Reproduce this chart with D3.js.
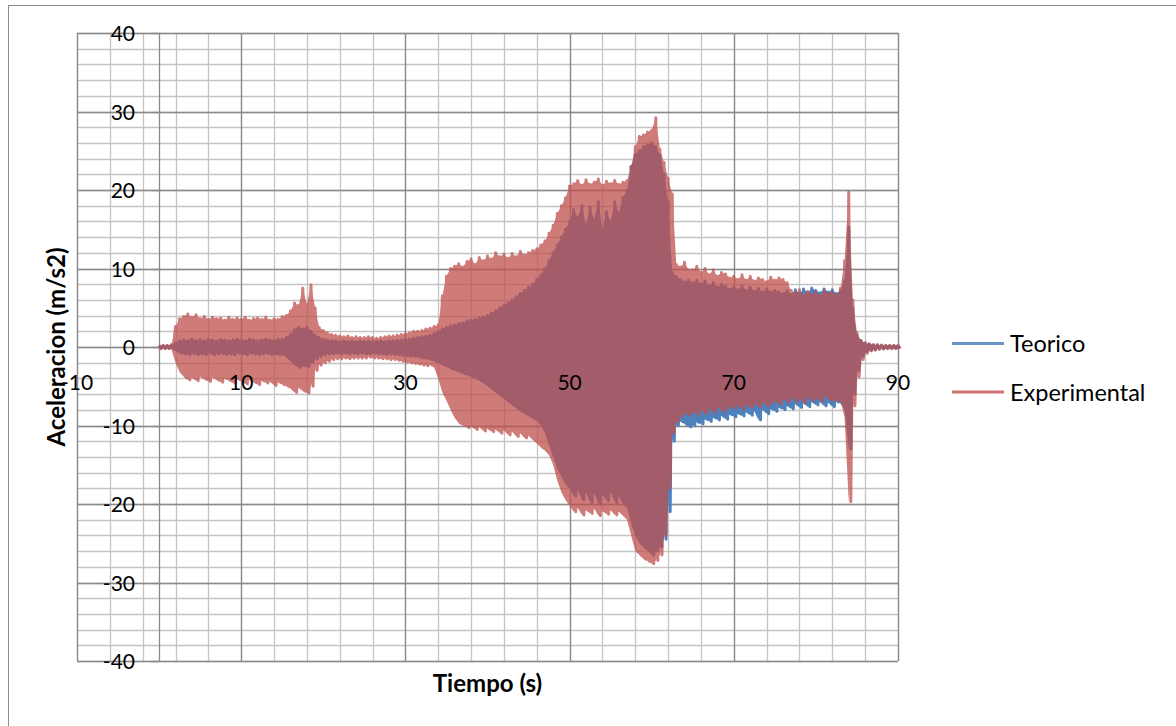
<!DOCTYPE html>
<html>
<head>
<meta charset="utf-8">
<script src="https://cdn.jsdelivr.net/npm/d3@7"></script>
<style>
  body { margin: 0; background: #ffffff; }
  text { font-family: Lato, "Open Sans", "Liberation Sans", sans-serif; fill: #000; }
</style>
</head>
<body>
<svg id="chart" width="1176" height="726"></svg>
<script>
// Seconds between stored samples; each sample holds the positive peak
// and the negative peak of the acceleration record around that instant.
const paso = 0.5;

// Teorico: positive / negative peaks (m/s2), one pair every 0.5 s from 0 to 90 s
const teoricoPicos = [
  0.15,0.15,0.15,0.2,0.5,0.8,0.9,0.8,1.0,0.8,
  0.9,0.8,1.0,0.9,0.8,1.0,0.9,0.8,0.9,1.0,
  0.9,0.8,1.0,0.9,0.8,0.9,1.0,0.9,0.8,1.0,
  1.0,1.2,1.6,2.2,2.5,2.3,2.5,2.0,1.5,1.2,
  1.0,0.9,0.8,0.8,0.7,0.8,0.7,0.8,0.7,0.8,
  0.7,0.8,0.7,0.7,0.8,0.7,0.8,0.8,0.9,0.9,
  1.0,1.0,1.1,1.2,1.3,1.4,1.5,1.7,2.0,2.3,
  2.5,2.7,2.8,3.0,3.1,3.3,3.4,3.5,3.7,3.8,
  4.0,4.3,4.6,5.0,5.3,5.6,6.0,6.4,6.8,7.2,
  7.6,8.0,8.6,9.2,10.0,11.0,12.0,13.0,14.0,15.0,
  16.0,17.5,16.5,18.0,15.5,17.8,16.2,18.5,15.0,17.2,
  16.0,18.5,17.0,19.0,20.0,23.0,24.5,25.0,25.5,25.8,
  26.0,25.5,24.5,22.0,18.5,9.5,9.0,8.6,8.3,8.5,
  8.2,8.5,8.0,8.4,7.8,8.2,7.6,8.0,7.7,7.4,
  7.6,7.3,7.8,7.2,7.6,7.1,7.5,7.0,7.4,7.0,
  7.2,7.0,6.8,7.2,6.7,7.3,6.8,7.4,6.9,7.5,
  7.2,6.9,7.4,7.0,7.3,6.8,7.2,8.5,15.3,5.0,
  1.5,0.8,0.5,0.35,0.25,0.2,0.2,0.15,0.15,0.15,
  0.15
];
const teoricoValles = [
  -0.15,-0.15,-0.15,-0.2,-0.5,-0.8,-0.9,-1.0,-0.8,-1.0,
  -0.9,-1.0,-0.8,-1.0,-0.9,-0.8,-1.0,-0.9,-1.0,-0.8,
  -0.9,-1.0,-0.8,-0.9,-1.0,-0.9,-0.8,-1.0,-0.9,-1.0,
  -1.0,-1.3,-1.8,-2.3,-2.6,-2.4,-2.5,-2.0,-1.5,-1.2,
  -1.0,-0.9,-0.9,-0.8,-0.9,-0.8,-0.9,-0.8,-0.9,-0.8,
  -0.9,-0.9,-0.8,-0.9,-0.9,-1.0,-0.9,-1.0,-1.0,-1.1,
  -1.1,-1.2,-1.2,-1.3,-1.4,-1.5,-1.6,-1.8,-2.0,-2.3,
  -2.5,-2.8,-3.0,-3.2,-3.4,-3.6,-3.8,-4.0,-4.3,-4.6,
  -5.0,-5.4,-5.8,-6.2,-6.6,-7.0,-7.4,-7.8,-8.2,-8.5,
  -8.8,-9.1,-9.4,-10.0,-11.0,-12.5,-14.0,-15.5,-16.5,-17.5,
  -18.0,-19.0,-18.2,-19.5,-18.5,-19.8,-18.6,-20.0,-18.8,-19.6,
  -18.5,-19.8,-19.0,-20.0,-20.5,-22.5,-24.0,-25.0,-25.5,-26.0,
  -26.5,-26.0,-25.5,-24.5,-21.0,-12.0,-10.0,-9.5,-9.8,-10.2,
  -10.0,-9.6,-9.8,-9.2,-9.5,-9.0,-9.3,-8.8,-9.2,-8.6,
  -8.9,-8.5,-8.8,-8.3,-8.7,-8.2,-9.3,-8.0,-8.5,-7.9,
  -8.2,-7.7,-8.0,-7.5,-7.9,-7.3,-7.7,-7.2,-7.6,-7.0,
  -7.4,-7.0,-7.5,-7.1,-7.6,-7.0,-7.2,-8.0,-13.0,-6.0,
  -3.0,-1.2,-0.6,-0.4,-0.3,-0.2,-0.2,-0.15,-0.15,-0.15,
  -0.15
];

// Experimental: positive / negative peaks (m/s2), same sampling
const experimentalPicos = [
  0.2,0.2,0.2,0.3,2.6,3.6,3.9,4.2,3.8,4.1,
  3.6,3.9,3.5,3.8,3.6,3.7,3.4,3.8,3.5,3.7,
  3.5,3.8,3.4,3.6,3.7,3.5,3.8,3.4,3.6,3.5,
  3.9,4.0,4.6,5.6,5.3,7.5,5.4,7.9,5.0,2.5,
  2.1,1.8,1.6,1.5,1.4,1.3,1.4,1.2,1.3,1.2,
  1.2,1.3,1.2,1.1,1.2,1.3,1.4,1.4,1.5,1.6,
  1.7,1.8,2.0,2.0,2.1,2.3,2.4,2.6,2.8,6.5,
  9.0,10.0,10.3,10.6,10.2,10.9,11.2,10.5,11.4,11.0,
  11.6,11.2,12.0,11.5,11.8,11.3,11.9,11.5,12.2,11.7,
  12.0,12.3,12.5,13.0,13.5,14.5,15.5,17.0,18.0,19.0,
  20.5,20.8,21.2,20.6,21.3,20.7,21.0,21.4,20.6,21.1,
  20.8,21.2,20.7,21.0,21.2,23.0,25.5,26.8,27.0,27.4,
  27.6,29.2,25.2,23.5,21.5,19.5,10.5,10.2,10.8,9.8,
  9.8,10.3,9.5,10.0,9.2,9.8,9.0,9.5,9.3,8.8,
  9.0,8.6,9.2,8.5,9.0,8.4,8.8,8.6,8.3,8.9,
  8.5,8.8,8.6,8.2,7.2,6.8,7.3,6.6,7.1,6.7,
  7.0,6.5,7.2,6.8,7.0,6.6,7.5,11.0,19.7,6.0,
  1.8,0.8,0.5,0.4,0.3,0.3,0.25,0.2,0.2,0.2,
  0.2
];
const experimentalValles = [
  -0.2,-0.2,-0.2,-0.3,-2.0,-3.2,-3.8,-4.2,-3.9,-4.3,
  -3.8,-4.1,-4.4,-3.9,-4.2,-4.5,-4.0,-4.3,-4.6,-4.1,
  -4.4,-4.7,-4.2,-4.5,-4.8,-4.3,-4.6,-4.4,-4.9,-4.5,
  -4.8,-5.0,-5.3,-5.8,-5.2,-5.6,-5.9,-5.0,-3.0,-2.3,
  -2.0,-1.8,-1.6,-1.5,-1.5,-1.4,-1.5,-1.4,-1.4,-1.4,
  -1.4,-1.3,-1.4,-1.4,-1.5,-1.5,-1.6,-1.6,-1.7,-1.8,
  -1.9,-2.0,-2.1,-2.2,-2.3,-2.4,-2.3,-2.6,-4.0,-5.8,
  -6.8,-8.0,-9.0,-9.7,-10.0,-10.3,-10.1,-10.5,-10.2,-10.7,
  -10.4,-10.8,-10.5,-11.0,-10.6,-11.2,-10.8,-11.4,-11.0,-11.6,
  -11.3,-11.8,-12.3,-12.8,-13.2,-13.8,-15.0,-17.0,-18.5,-19.5,
  -20.2,-21.0,-20.5,-21.4,-20.8,-21.2,-20.6,-21.5,-20.9,-21.3,
  -20.8,-21.4,-21.0,-21.5,-22.0,-24.0,-26.0,-26.5,-27.0,-27.3,
  -27.6,-27.2,-26.5,-24.0,-18.0,-11.0,-9.5,-8.8,-8.4,-8.7,
  -8.2,-8.6,-8.0,-8.5,-7.8,-8.3,-7.6,-8.2,-7.9,-7.5,
  -7.8,-7.4,-7.9,-7.3,-7.7,-7.2,-7.6,-7.0,-7.5,-7.1,
  -6.8,-7.3,-6.6,-7.0,-6.4,-6.9,-6.5,-7.1,-6.3,-6.8,
  -6.5,-6.9,-6.2,-6.7,-6.8,-6.8,-6.8,-9.0,-19.7,-7.5,
  -3.8,-1.6,-0.8,-0.5,-0.4,-0.3,-0.25,-0.2,-0.2,-0.2,
  -0.2
];

const xTickValues = [-10, 10, 30, 50, 70, 90];
const yTickValues = [-40, -30, -20, -10, 0, 10, 20, 30, 40];
const seriesNames = ["Teorico", "Experimental"];
const seriesColors = ["#4F81BD", "#C0504D"];

const svg = d3.select("#chart");
const W = 1176, H = 726;
const plot = { left: 77, top: 33, right: 898, bottom: 661 };

const x = d3.scaleLinear().domain([-10, 90]).range([plot.left, plot.right]);
const y = d3.scaleLinear().domain([-40, 40]).range([plot.bottom, plot.top]);

// Chart frame
svg.append("rect")
  .attr("x", 8.5).attr("y", 5.5)
  .attr("width", W + 10).attr("height", H + 10)
  .attr("fill", "#fff").attr("stroke", "#8c8c8c").attr("stroke-width", 1);

// Minor gridlines
const grid = svg.append("g");
const xMinor = d3.range(-10, 90.001, 4);
const yMinor = d3.range(-40, 40.001, 2);
grid.selectAll(".vmin").data(xMinor).join("line")
  .attr("x1", d => Math.round(x(d)) + 0.5).attr("x2", d => Math.round(x(d)) + 0.5)
  .attr("y1", plot.top).attr("y2", plot.bottom)
  .attr("stroke", "#c4c4c4").attr("stroke-width", 1.3);
grid.selectAll(".hmin").data(yMinor).join("line")
  .attr("y1", d => Math.round(y(d)) + 0.5).attr("y2", d => Math.round(y(d)) + 0.5)
  .attr("x1", plot.left).attr("x2", plot.right)
  .attr("stroke", "#c4c4c4").attr("stroke-width", 1.3);

// Major gridlines
grid.selectAll(".vmaj").data(xTickValues).join("line")
  .attr("x1", d => Math.round(x(d)) + 0.5).attr("x2", d => Math.round(x(d)) + 0.5)
  .attr("y1", plot.top).attr("y2", plot.bottom)
  .attr("stroke", "#8a8a8a").attr("stroke-width", 1.3);
grid.selectAll(".hmaj").data(yTickValues).join("line")
  .attr("y1", d => Math.round(y(d)) + 0.5).attr("y2", d => Math.round(y(d)) + 0.5)
  .attr("x1", plot.left).attr("x2", plot.right)
  .attr("stroke", "#8a8a8a").attr("stroke-width", 1.3);

// Vertical axis line at t = 0 with outward tick marks
const x0 = Math.round(x(0)) + 0.5;
svg.append("line")
  .attr("x1", x0).attr("x2", x0).attr("y1", plot.top).attr("y2", plot.bottom)
  .attr("stroke", "#8a8a8a").attr("stroke-width", 1.3);
svg.selectAll(".ytick").data(yTickValues).join("line")
  .attr("x1", x0 - 8).attr("x2", x0)
  .attr("y1", d => Math.round(y(d)) + 0.5).attr("y2", d => Math.round(y(d)) + 0.5)
  .attr("stroke", "#8a8a8a").attr("stroke-width", 1.3);

// Series: successive positive and negative peaks joined as one trace,
// with the band between the peaks filled so the dense record reads as solid
function trace(picos, valles) {
  const pts = [];
  picos.forEach((v, i) => {
    pts.push([i * paso, v]);
    pts.push([i * paso + paso / 2, valles[i]]);
  });
  return pts;
}
const line = d3.line().x(d => x(d[0])).y(d => y(d[1]));
const band = d3.area()
  .x((d, i) => x(i * paso))
  .y0(d => y(d[1]))
  .y1(d => y(d[0]));

const peaks = [
  [teoricoPicos, teoricoValles],
  [experimentalPicos, experimentalValles]
];
const opacities = [1, 0.75];

peaks.forEach(([picos, valles], k) => {
  const g = svg.append("g").attr("opacity", opacities[k]);
  g.append("path")
    .datum(picos.map((v, i) => [v, valles[i]]))
    .attr("d", band)
    .attr("fill", seriesColors[k]);
  g.append("path")
    .datum(trace(picos, valles))
    .attr("d", line)
    .attr("fill", "none")
    .attr("stroke", seriesColors[k]).attr("stroke-width", 3)
    .attr("stroke-linejoin", "round");
});

// Tick labels
svg.selectAll(".ylab").data(yTickValues).join("text")
  .attr("x", 135).attr("y", d => y(d) + 8)
  .attr("text-anchor", "end").attr("font-size", 21)
  .text(d => d);
svg.selectAll(".xlab").data(xTickValues).join("text")
  .attr("x", d => x(d)).attr("y", 390)
  .attr("text-anchor", "middle").attr("font-size", 21)
  .text(d => d);

// Axis titles
svg.append("text")
  .attr("x", (plot.left + plot.right) / 2).attr("y", 692)
  .attr("text-anchor", "middle").attr("font-size", 24).attr("font-weight", "bold")
  .text("Tiempo (s)");
svg.append("text")
  .attr("transform", "translate(65,347) rotate(-90)")
  .attr("text-anchor", "middle").attr("font-size", 24).attr("font-weight", "bold")
  .text("Aceleracion (m/s2)");

// Legend
const legend = svg.append("g");
seriesNames.forEach((name, i) => {
  const ly = 343.5 + i * 48.5;
  legend.append("line")
    .attr("x1", 952).attr("x2", 1004).attr("y1", ly).attr("y2", ly)
    .attr("stroke", seriesColors[i]).attr("stroke-width", 3)
    .attr("stroke-opacity", i === 1 ? 0.8 : 0.85);
  legend.append("text")
    .attr("x", 1010).attr("y", ly + 8.5)
    .attr("font-size", 23.5)
    .text(name);
});
</script>
</body>
</html>
